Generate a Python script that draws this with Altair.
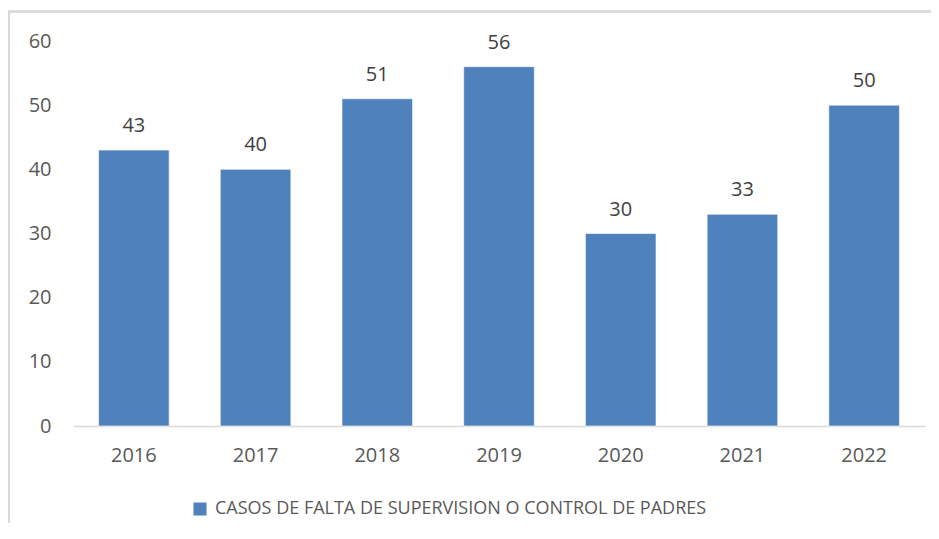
import altair as alt
import pandas as pd

years = ["2016", "2017", "2018", "2019", "2020", "2021", "2022"]
cases = [43, 40, 51, 56, 30, 33, 50]
series_name = "CASOS DE FALTA DE SUPERVISION O CONTROL DE PADRES"
title_text = "padres en la provincia de Huánuco y"

df = pd.DataFrame({"year": years, "cases": cases, "serie": [series_name] * len(years)})

FONT = "Open Sans"
BLUE = "#4f81bd"

base = alt.Chart(df)

bars = base.mark_bar(color=BLUE, stroke="#ffffff", strokeWidth=0.6).encode(
    x=alt.X("year:N", sort=years, title=None,
            scale=alt.Scale(paddingInner=0.42, paddingOuter=0.21),
            axis=alt.Axis(labelAngle=0, labelFontSize=20, labelColor="#595959",
                          labelFont=FONT, labelPadding=19, ticks=False,
                          domainColor="#d9d9d9", domainWidth=1.5)),
    y=alt.Y("cases:Q", title=None,
            scale=alt.Scale(domain=[0, 60], nice=False),
            axis=alt.Axis(values=[0, 10, 20, 30, 40, 50, 60], labelFontSize=20,
                          labelColor="#595959", labelFont=FONT, labelPadding=22,
                          ticks=False, domain=False, grid=False)),
    color=alt.Color("serie:N", scale=alt.Scale(range=[BLUE]),
                    legend=alt.Legend(title=None, orient="none", legendX=118, legendY=459,
                                      symbolType="square", symbolSize=170,
                                      symbolStrokeWidth=0, labelFontSize=18,
                                      labelFont=FONT, labelColor="#595959",
                                      labelLimit=0, symbolOffset=0, labelOffset=6)),
)

labels = base.mark_text(font=FONT, fontSize=20, color="#404040",
                        baseline="alphabetic", dy=-18).encode(
    x=alt.X("year:N", sort=years),
    y=alt.Y("cases:Q"),
    text=alt.Text("cases:Q"),
)

frame_top = base.mark_rule(color="#d9d9d9", strokeWidth=1.5).encode(
    x=alt.value(-65), x2=alt.value(880), y=alt.value(-29.5)
)
frame_left = base.mark_rule(color="#d9d9d9", strokeWidth=1.5).encode(
    x=alt.value(-64.25), y=alt.value(-29.5), y2=alt.value(490)
)

cut_title = base.mark_text(font=FONT, fontSize=26.5, fontWeight="bold", color="#000000",
                           align="left", baseline="alphabetic").encode(
    x=alt.value(-44), y=alt.value(-40), text=alt.value(title_text)
)

chart = alt.layer(frame_top, frame_left, cut_title, bars, labels).properties(
    width=852, height=385,
    autosize=alt.AutoSizeParams(type="none"),
    padding={"left": 65, "top": 33, "right": 6, "bottom": 97},
).configure_view(stroke=None)

chart.save("out.html", embed_options={"renderer": "svg", "actions": False})
